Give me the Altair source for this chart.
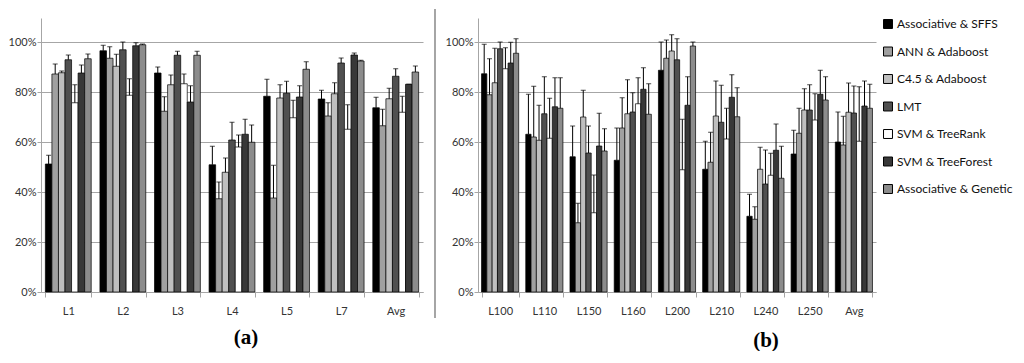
import altair as alt
import pandas as pd

series = ["Associative & SFFS", "ANN & Adaboost", "C4.5 & Adaboost", "LMT",
          "SVM & TreeRank", "SVM & TreeForest", "Associative & Genetic"]
fills = ["#000000", "#a0a0a0", "#bfbfbf", "#505050", "#ffffff", "#383838", "#8c8c8c"]

cats_a = ["L1", "L2", "L3", "L4", "L5", "L7", "Avg"]
vals_a = [
    [51.2, 87.2, 87.7, 92.9, 75.7, 87.6, 93.3],
    [96.5, 93.5, 90.3, 96.9, 78.7, 98.5, 98.9],
    [87.6, 72.3, 82.9, 94.7, 83.3, 76.0, 94.7],
    [50.9, 37.3, 47.9, 60.8, 58.0, 63.1, 59.9],
    [78.3, 37.6, 77.6, 79.5, 69.7, 78.0, 89.1],
    [77.2, 70.4, 79.3, 91.6, 65.1, 94.8, 92.4],
    [73.7, 66.5, 77.3, 86.3, 71.9, 83.1, 88.0],
]
errs_a = [
    [54.7, 91.2, 88.4, 94.8, 82.9, 90.8, 95.2],
    [98.7, 98.1, 95.1, 100.0, 85.3, 99.7, 99.2],
    [90.0, 78.1, 86.8, 96.3, 87.2, 82.5, 96.3],
    [58.3, 44.0, 53.6, 67.9, 62.8, 69.1, 66.8],
    [85.1, 50.7, 82.9, 84.3, 76.7, 82.5, 92.1],
    [80.7, 75.7, 83.7, 93.6, 74.9, 95.6, 92.7],
    [77.9, 73.1, 81.5, 89.3, 78.3, 83.1, 90.4],
]

cats_b = ["L100", "L110", "L150", "L160", "L200", "L210", "L240", "L250", "Avg"]
vals_b = [
    [87.3, 78.9, 83.7, 97.3, 89.3, 91.6, 95.5],
    [63.1, 62.0, 60.7, 71.3, 61.5, 74.1, 73.5],
    [54.1, 27.7, 70.0, 55.6, 31.7, 58.4, 56.4],
    [52.7, 65.6, 71.3, 72.0, 75.3, 81.1, 71.1],
    [88.7, 93.5, 96.4, 92.9, 48.9, 74.7, 98.4],
    [49.1, 51.9, 70.4, 67.9, 61.2, 77.9, 70.1],
    [30.3, 29.1, 49.1, 43.2, 46.7, 56.7, 45.5],
    [55.2, 63.5, 72.8, 72.8, 68.8, 79.1, 76.8],
    [60.0, 58.8, 71.9, 71.6, 60.3, 74.4, 73.5],
]
errs_b = [
    [99.1, 93.3, 97.5, 100.0, 97.7, 99.9, 101.3],
    [79.1, 82.3, 74.7, 86.1, 77.5, 85.7, 85.7],
    [66.4, 35.5, 80.7, 66.4, 46.8, 71.5, 65.3],
    [65.6, 77.7, 84.9, 79.7, 85.7, 89.7, 83.3],
    [100.0, 100.8, 102.9, 101.3, 69.1, 86.1, 100.0],
    [60.3, 63.9, 84.4, 82.7, 73.5, 86.9, 81.7],
    [39.1, 34.1, 57.9, 56.8, 55.5, 67.2, 58.3],
    [64.7, 73.5, 81.3, 82.9, 79.3, 88.7, 86.1],
    [72.0, 70.3, 83.6, 82.4, 82.1, 84.4, 83.1],
]


def frame(cats, vals, errs):
    rows = []
    for c, vr, er in zip(cats, vals, errs):
        for i, (s, v, e) in enumerate(zip(series, vr, er)):
            rows.append({"cat": c, "series": s, "order": i,
                         "value": v / 100.0, "upper": e / 100.0})
    return pd.DataFrame(rows)


FONT = "Lato"
GRID = "#a6a6a6"
ymax = 1.096

legend = alt.Legend(title=None, orient="right", offset=6, symbolType="square",
                    symbolSize=80, symbolStrokeColor="black", symbolStrokeWidth=1,
                    labelFont=FONT, labelFontSize=12, labelColor="#111111",
                    rowPadding=13.5, labelOffset=3)


def panel(df, cats, width, label, dx, with_sep):
    color_scale = alt.Scale(domain=series, range=fills)
    xenc = alt.X("cat:N", sort=cats, title=None,
                 scale=alt.Scale(paddingInner=0.16, paddingOuter=0.08),
                 axis=alt.Axis(tickBand="extent", labelAngle=0, domainColor=GRID,
                               tickColor=GRID, tickSize=5, labelPadding=8,
                               labelFont=FONT, labelFontSize=11, labelColor="#333333",
                               grid=False))
    yscale = alt.Scale(domain=[0, ymax], nice=False)
    yaxis = alt.Axis(values=[0, 0.2, 0.4, 0.6, 0.8, 1.0], format=".0%",
                     domainColor=GRID, tickColor=GRID, tickSize=4,
                     gridColor=GRID, gridWidth=1.2, labelPadding=1,
                     labelFont=FONT, labelFontSize=11, labelColor="#333333")
    xoff = alt.XOffset("series:N", sort=series, scale=alt.Scale(paddingInner=0))

    bars = alt.Chart(df).mark_bar(stroke="black", strokeWidth=0.7).encode(
        x=xenc,
        xOffset=xoff,
        y=alt.Y("value:Q", scale=yscale, axis=yaxis, title=None),
        fill=alt.Fill("series:N", scale=color_scale, sort=series, legend=legend),
    )
    rules = alt.Chart(df).mark_rule(color="black", strokeWidth=1).encode(
        x=alt.X("cat:N", sort=cats),
        xOffset=xoff,
        y=alt.Y("value:Q", scale=yscale),
        y2="upper:Q",
    )
    caps = alt.Chart(df).mark_tick(color="black", thickness=1, size=5,
                                   orient="horizontal").encode(
        x=alt.X("cat:N", sort=cats),
        xOffset=xoff,
        y=alt.Y("upper:Q", scale=yscale),
    )
    layers = [bars, rules, caps]
    if with_sep:
        sep = alt.Chart(df).mark_rule(color=GRID, strokeWidth=1.2).encode(
            x=alt.value(-43), y=alt.value(-9), y2=alt.value(300))
        layers.append(sep)
    return alt.layer(*layers).properties(
        width=width, height=274,
        title=alt.TitleParams(text=label, orient="bottom", font="Liberation Serif",
                              fontSize=21, fontWeight="bold", color="black",
                              offset=11, dx=dx),
    ).resolve_scale(xOffset="independent")


pa = panel(frame(cats_a, vals_a, errs_a), cats_a, 382, "(a)", 14, False)
pb = panel(frame(cats_b, vals_b, errs_b), cats_b, 398, "(b)", 89, True)

chart = alt.hconcat(pa, pb, spacing=11).properties(
    padding={"left": 0, "top": 0, "right": 0, "bottom": 0}
).resolve_scale(fill="shared", x="independent", y="independent",
                xOffset="independent").configure_view(stroke=None)

chart.save("out.html", embed_options={"renderer": "svg", "actions": False})
